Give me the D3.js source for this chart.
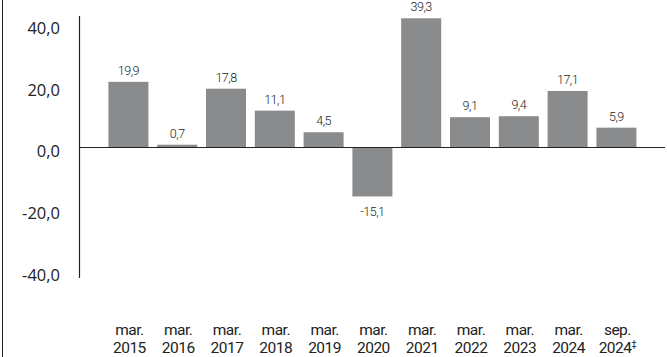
<!DOCTYPE html>
<html>
<head>
<meta charset="utf-8">
<script src="https://d3js.org/d3.v7.min.js"></script>
<style>
  body { margin: 0; background: #fff; }
  .narrow { font-family: "Roboto", "DejaVu Sans Condensed", sans-serif; letter-spacing: -0.5px; }
  .val { font-weight: 300; }
  .xlab { font-weight: 400; }
</style>
</head>
<body>
<div id="chart"></div>
<script>
// data
var periods = ["mar.", "mar.", "mar.", "mar.", "mar.", "mar.", "mar.", "mar.", "mar.", "mar.", "sep."];
var years = ["2015", "2016", "2017", "2018", "2019", "2020", "2021", "2022", "2023", "2024", "2024"];
var notes = ["", "", "", "", "", "", "", "", "", "", "\u2021"];
var values = [19.9, 0.7, 17.8, 11.1, 4.5, -15.1, 39.3, 9.1, 9.4, 17.1, 5.9];
var yTicks = [40, 20, 0, -20, -40];

var W = 667, H = 357;
// comma decimal, plain hyphen for negatives
var fmt = function(v) { return d3.format(".1f")(v).replace(".", ",").replace("\u2212", "-"); };

var svg = d3.select("#chart").append("svg")
  .attr("width", W)
  .attr("height", H);

// left frame line
svg.append("line")
  .attr("x1", 2.5).attr("x2", 2.5)
  .attr("y1", 0).attr("y2", H)
  .attr("stroke", "#222").attr("stroke-width", 1);

var idx = d3.range(values.length);

var x = d3.scaleBand()
  .domain(idx)
  .range([104, 640.8])
  .paddingInner(0.18)
  .paddingOuter(0.09);

var y = d3.scaleLinear()
  .domain([-40, 40])
  .range([278, 16]);

// tick labels sit slightly inside the axis extent in the original
var yLab = d3.scaleLinear()
  .domain([-40, 40])
  .range([275, 28]);

// y axis line
svg.append("line")
  .attr("x1", 79.5).attr("x2", 79.5)
  .attr("y1", y(40)).attr("y2", y(-40))
  .attr("stroke", "#222").attr("stroke-width", 1.2);

// y tick labels
svg.selectAll(".ytick")
  .data(yTicks)
  .enter().append("text")
    .attr("class", "ytick")
    .attr("x", 60)
    .attr("y", function(d) { return yLab(d); })
    .attr("dy", "0.35em")
    .attr("text-anchor", "end")
    .style("font-family", "'Open Sans', sans-serif")
    .style("font-size", "16.5px")
    .attr("fill", "#222")
    .text(function(d) { return fmt(d); });

// bars
svg.selectAll("rect.bar")
  .data(idx)
  .enter().append("rect")
    .attr("class", "bar")
    .attr("x", function(i) { return x(i); })
    .attr("width", x.bandwidth())
    .attr("y", function(i) { return y(Math.max(0, values[i])); })
    .attr("height", function(i) { return Math.abs(y(values[i]) - y(0)); })
    .attr("fill", "#898b8d");

// zero line
svg.append("line")
  .attr("x1", 79).attr("x2", 665)
  .attr("y1", y(0) + 0.5).attr("y2", y(0) + 0.5)
  .attr("stroke", "#222").attr("stroke-width", 1.2);

// value labels
svg.selectAll(".val")
  .data(idx)
  .enter().append("text")
    .attr("class", "val narrow")
    .attr("x", function(i) { return x(i) + x.bandwidth() / 2; })
    .attr("y", function(i) { return values[i] >= 0 ? y(values[i]) - 7 : y(values[i]) + 20; })
    .attr("text-anchor", "middle")
    .style("font-size", "12.5px")
    .attr("fill", "#222")
    .text(function(i) { return fmt(values[i]); });

// x category labels
var xl = svg.selectAll(".xlab")
  .data(idx)
  .enter().append("text")
    .attr("class", "xlab narrow")
    .attr("text-anchor", "middle")
    .style("font-size", "15.5px")
    .attr("fill", "#222");

xl.append("tspan")
  .attr("x", function(i) { return x(i) + x.bandwidth() / 2 + 1; })
  .attr("y", 335)
  .text(function(i) { return periods[i]; });

xl.append("tspan")
  .attr("x", function(i) { return x(i) + x.bandwidth() / 2 + 1; })
  .attr("y", 353)
  .text(function(i) { return years[i]; });

xl.filter(function(i) { return notes[i] !== ""; })
  .append("tspan")
    .attr("dy", -6)
    .style("font-size", "9px")
    .text(function(i) { return notes[i]; });
</script>
</body>
</html>
